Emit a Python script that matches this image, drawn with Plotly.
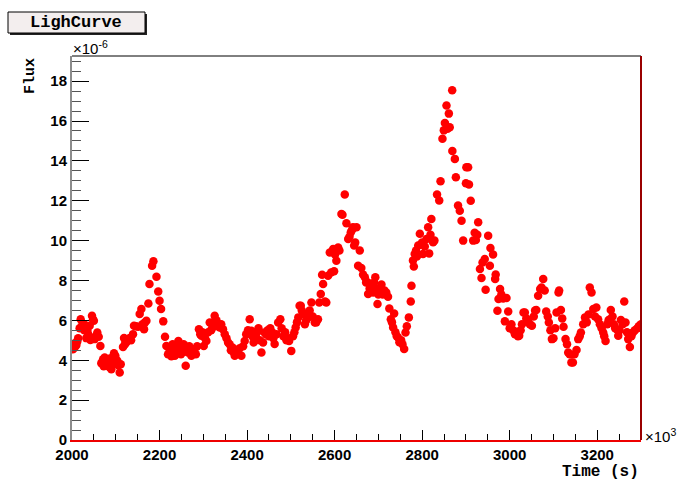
import plotly.graph_objects as go

# Time in units of 10^3 s, flux in units of 10^-6
time_ks = [
    2002, 2004.6, 2006, 2008, 2010, 2012, 2014, 2017.5, 2019.8, 2022, 2025, 2028, 2030, 2032.7, 2035, 2037,
    2040.4, 2042, 2045.7, 2048, 2050, 2051.8, 2054, 2057.8, 2061, 2064.8,
    2067, 2068.6, 2071, 2072.5, 2074.7, 2076, 2078.5, 2081, 2083.8, 2086, 2088, 2089.9, 2092, 2093.7, 2096,
    2099, 2101, 2103.6, 2106, 2109, 2111.3,
    2116.6, 2118.9, 2121, 2124, 2127, 2131.8, 2135, 2139.4, 2141.7, 2146, 2150.9, 2154.7, 2158.5, 2161, 2164.6,
    2167, 2170, 2174.5, 2177, 2183, 2186, 2193, 2197, 2200, 2203.5, 2208.5, 2212.5, 2215.6, 2219.4,
    2222, 2224, 2227, 2230, 2233, 2235, 2238, 2241, 2243, 2246, 2249, 2252, 2255, 2257.5, 2259.8, 2262, 2265,
    2268, 2270, 2272.7, 2276, 2280, 2283, 2286, 2290, 2293, 2295.6, 2298, 2301, 2304, 2307, 2311, 2314.7, 2318,
    2320.8, 2323, 2326, 2330, 2334, 2337.5, 2341, 2345, 2349, 2353, 2356.6, 2360, 2363, 2366.5, 2369, 2371.8,
    2375, 2379, 2383, 2387, 2391, 2394.6, 2398, 2402, 2406, 2409.9, 2412, 2415, 2418, 2420, 2423, 2426, 2429,
    2432.8, 2436.5, 2440, 2443, 2447, 2450, 2453, 2457, 2460, 2463, 2467, 2471, 2476, 2479, 2483, 2487, 2490,
    2493, 2496, 2501, 2505, 2508, 2511, 2514, 2517, 2520, 2522.7, 2525, 2528, 2532, 2535, 2539, 2543, 2547,
    2550, 2554.7, 2558, 2562, 2565, 2568.4, 2571.4, 2573.7, 2578, 2581, 2585, 2589, 2592, 2596.6, 2598.8, 2601,
    2604, 2608, 2611, 2615.6, 2618, 2623.2, 2627, 2631, 2634, 2637, 2640, 2642, 2644.6, 2647, 2650, 2653.7,
    2657.5, 2661, 2665, 2669, 2672, 2675, 2676.6, 2680, 2684, 2688, 2690, 2693, 2695, 2698, 2700, 2703, 2707,
    2710, 2714, 2718, 2722, 2725, 2728.4, 2731, 2733.7, 2736, 2739, 2742, 2745, 2748, 2752, 2755, 2758.9, 2762,
    2765, 2769.6, 2774, 2775.6, 2779, 2781, 2783, 2786, 2788, 2791, 2794.7, 2797, 2800, 2802, 2806, 2810,
    2813.7, 2816, 2819, 2821, 2825, 2828, 2834, 2839, 2842, 2846.4, 2849.5, 2852, 2855.6, 2858, 2861, 2863,
    2868.6, 2869, 2874.7, 2877, 2882, 2886, 2890, 2893.7, 2900, 2901, 2905, 2907, 2911, 2916.6, 2920, 2922.7,
    2926, 2928, 2932, 2935.6, 2938, 2943, 2945, 2950.8, 2954.7, 2956, 2962, 2966.8, 2968, 2972, 2974.4, 2978,
    2981, 2985, 2989, 2992.7, 2996.6, 3000, 3004, 3008, 3012, 3016, 3019, 3021.7, 3025, 3028, 3031.6, 3034.6,
    3038, 3042, 3046, 3050.7, 3055, 3058, 3060.6, 3065, 3069.7, 3072.7, 3076.6, 3080, 3083.4, 3087, 3089.5,
    3093, 3096.4, 3100, 3104, 3107, 3111.6, 3113, 3117, 3120, 3123, 3127.6, 3131, 3133.7, 3137, 3141, 3144.4,
    3148, 3152.7, 3156.6, 3160, 3162.7, 3168, 3172, 3176, 3180, 3183, 3187, 3191, 3195, 3198, 3202, 3206,
    3210, 3213.7, 3216, 3219, 3223, 3226, 3229, 3231, 3235, 3238, 3241, 3244.7, 3248, 3251, 3254, 3258,
    3261.7, 3264.6, 3268, 3270.8, 3274.6, 3278, 3282, 3286, 3291.6, 3295, 3297, 3300,
]

flux_e6 = [
    4.55, 4.61, 4.85, 4.7, 4.76, 4.94, 5.1, 5.61, 6.06, 5.7, 5.64, 5.5, 5.77, 5.11, 5.51, 5.3,
    5.73, 5.01, 6.23, 6.05, 5.98, 5.06, 5.2, 5.39, 5.18, 4.72,
    3.85, 3.89, 4.05, 3.7, 4.14, 3.9, 3.72, 4.05, 3.97, 3.65, 4.1, 3.55, 4.0, 3.80, 4.35,
    4.22, 4.0, 3.97, 3.75, 3.38, 3.80,
    4.67, 5.11, 4.8, 4.89, 5.0, 5.11, 5.0, 5.31, 5.73, 5.7, 5.68, 6.32, 6.57, 5.8, 5.56,
    5.9, 5.98, 6.85, 7.82, 8.74, 8.96, 8.19, 7.45, 6.98, 6.57, 5.95, 5.18, 4.72, 4.30,
    4.6, 4.47, 4.2, 4.8, 4.55, 4.22, 4.4, 4.75, 4.97, 4.5, 4.3, 4.6, 4.8, 4.72, 3.72, 4.5, 4.39,
    4.7, 4.5, 4.22, 4.4, 4.56, 4.3, 4.7, 5.56, 5.3, 5.23, 5.4, 4.72, 5.1, 4.97, 5.4, 5.89, 5.5,
    5.64, 5.9, 6.23, 6.0, 5.7, 5.64, 5.8, 5.56, 5.3, 5.1, 4.89, 4.8, 4.5, 4.64, 4.4, 4.22,
    4.5, 4.4, 4.6, 4.22, 4.7, 4.97, 5.3, 5.5, 6.06, 5.48, 5.2, 4.89, 5.1, 5.2, 5.4, 5.6, 5.0,
    4.39, 4.89, 5.39, 5.3, 5.5, 5.2, 5.6, 5.4, 5.1, 4.81, 5.3, 5.89, 6.06, 5.6, 5.2, 5.4, 5.0,
    5.1, 4.97, 4.47, 5.2, 5.4, 5.64, 5.9, 6.15, 6.73, 6.73, 6.5, 6.32, 5.81, 6.0, 6.15, 6.5, 6.90,
    6.2, 5.89, 5.9, 6.06, 6.9, 7.32, 8.29, 7.82, 6.95, 6.90, 8.24, 9.41, 8.4, 9.58, 8.46, 9.3,
    8.99, 9.66, 9.5, 11.34, 11.3, 12.31, 10.87, 10.08, 10.2, 10.42, 10.55, 10.67, 9.75, 9.9, 10.67, 8.74,
    9.50, 8.63, 8.3, 8.16, 7.9, 7.91, 7.32, 7.6, 7.8, 7.4, 7.9, 8.16, 7.6, 6.82, 7.3, 7.49, 7.8,
    7.3, 7.5, 7.4, 7.19, 6.6, 6.06, 5.9, 5.64, 6.35, 5.4, 5.2, 5.14, 4.9, 5.0, 4.8, 4.56, 5.39,
    5.7, 6.15, 6.95, 7.74, 9.0, 8.7, 9.33, 9.5, 9.2, 9.75, 10.34, 9.8, 9.9, 9.33, 9.7, 10.08,
    10.67, 9.36, 10.3, 11.09, 9.92, 10.0, 12.31, 12.01, 12.98, 15.11, 15.53, 15.9, 16.78, 15.61, 16.37, 15.69,
    17.54, 14.49, 14.1, 13.18, 11.76, 11.5, 11.0, 10.0, 12.88, 13.68, 13.68, 12.81, 12.0, 10.0, 10.4, 10.03,
    10.3, 10.92, 8.58, 8.12, 8.9, 9.08, 7.54, 10.25, 8.74, 9.63, 9.30, 8.07, 8.3, 6.48, 7.07, 7.57,
    7.3, 7.1, 5.95, 7.12, 6.45, 5.6, 5.8, 5.5, 5.3, 5.4, 5.2, 5.23, 5.5, 5.8, 6.40, 6.40,
    6.1, 5.98, 5.81, 5.73, 6.2, 6.5, 6.52, 7.24, 7.57, 7.65, 8.07, 7.5, 6.45, 6.2, 5.89,
    5.5, 5.06, 5.1, 5.6, 6.40, 7.40, 7.5, 6.52, 6.1, 5.68, 5.06, 4.8, 4.39, 4.3, 3.89, 3.89,
    4.3, 4.51, 5.06, 5.2, 5.39, 5.81, 6.15, 5.9, 6.3, 7.65, 7.40, 6.57, 6.2, 6.65, 6.06, 5.8,
    5.6, 5.39, 5.2, 4.97, 5.8, 6.0, 6.06, 6.52, 6.2, 5.8, 5.6, 5.56, 5.23, 5.5, 6.02, 5.8,
    6.95, 5.89, 5.4, 5.06, 4.67, 5.2, 5.4, 5.5, 5.61, 5.7, 5.73, 5.81,
]

x_ticks = [2000, 2200, 2400, 2600, 2800, 3000, 3200]
y_ticks = [0, 2, 4, 6, 8, 10, 12, 14, 16, 18]

W, H = 682, 484
L, R, T, B = 72, 641, 56, 440


def px(x):
    return (x - L) / (R - L)


def py(y):
    return (B - y) / (B - T)


fig = go.Figure()
fig.add_trace(go.Scatter(
    x=time_ks, y=flux_e6, mode="markers",
    marker=dict(color="#ff0000", size=8.5, line=dict(width=0)),
    hoverinfo="skip", showlegend=False,
))

tickfont = dict(family="Liberation Sans", size=15, color="black", weight="bold")

fig.update_layout(
    width=W, height=H,
    margin=dict(l=L, r=W - R, t=T, b=H - B),
    paper_bgcolor="white", plot_bgcolor="white",
    xaxis=dict(
        range=[2000, 3300], tickvals=x_ticks, ticktext=[str(v) for v in x_ticks],
        showgrid=False, zeroline=False, showline=True, linecolor="#ee0000", linewidth=2,
        ticks="inside", ticklen=10, tickcolor="black", tickwidth=1,
        minor=dict(dtick=50, ticks="inside", ticklen=6, tickcolor="black", tickwidth=1, showgrid=False),
        tickfont=tickfont,
    ),
    yaxis=dict(
        range=[0, 19.26], tickvals=y_ticks, ticktext=[str(v) for v in y_ticks],
        showgrid=False, zeroline=False, showline=True, linecolor="#8c8c8c", linewidth=2,
        ticks="inside", ticklen=17, tickcolor="black", tickwidth=1,
        minor=dict(dtick=0.5, ticks="inside", ticklen=9, tickcolor="#555555", tickwidth=1, showgrid=False),
        tickfont=tickfont,
    ),
    showlegend=False,
)

# Frame: top and right edges
fig.add_shape(type="line", xref="paper", yref="paper", x0=0, x1=1, y0=1, y1=1,
              line=dict(color="black", width=1))
fig.add_shape(type="line", xref="paper", yref="paper", x0=1, x1=1, y0=0, y1=1,
              line=dict(color="#9a0000", width=2))

# Title box with shadow
fig.add_shape(type="rect", xref="paper", yref="paper",
              x0=px(10), x1=px(147), y0=py(35), y1=py(14),
              line=dict(width=0), fillcolor="#222222", layer="above")
fig.add_shape(type="rect", xref="paper", yref="paper",
              x0=px(8), x1=px(145), y0=py(33), y1=py(12),
              line=dict(color="black", width=1), fillcolor="#f3eeee", layer="above")
fig.add_annotation(xref="paper", yref="paper", x=px(76), y=py(22.5), text="LighCurve",
                   showarrow=False, xanchor="center", yanchor="middle",
                   font=dict(family="Liberation Mono", size=17, color="black", weight="bold"))

# Axis titles
fig.add_annotation(xref="paper", yref="paper", x=px(30), y=py(56), text="Flux", textangle=-90,
                   showarrow=False, xanchor="center", yanchor="top",
                   font=dict(family="Liberation Mono", size=15, color="black", weight="bold"))
fig.add_annotation(xref="paper", yref="paper", x=px(641), y=py(472), text="Time (s)",
                   showarrow=False, xanchor="right", yanchor="middle",
                   font=dict(family="Liberation Mono", size=16, color="black", weight="bold"))

# Exponent labels
fig.add_annotation(xref="paper", yref="paper", x=px(71), y=py(47), text="×10<sup>-6</sup>",
                   showarrow=False, xanchor="left", yanchor="middle",
                   font=dict(family="Liberation Sans", size=15, color="black"))
fig.add_annotation(xref="paper", yref="paper", x=px(643), y=py(435), text="×10<sup>3</sup>",
                   showarrow=False, xanchor="left", yanchor="middle",
                   font=dict(family="Liberation Sans", size=15, color="black"))

fig.write_html(
    "out.html",
    config={"displayModeBar": False},
    post_script="document.body.style.margin='0';document.body.style.padding='0';",
)
